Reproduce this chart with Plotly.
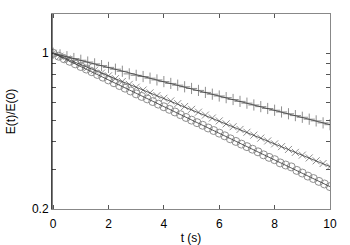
import plotly.graph_objects as go

t_plus = [0.0, 0.25, 0.5, 0.75, 1.0, 1.25, 1.5, 1.75, 2.0, 2.25, 2.5, 2.75, 3.0, 3.25, 3.5, 3.75, 4.0,
          4.25, 4.5, 4.75, 5.0, 5.25, 5.5, 5.75, 6.0, 6.25, 6.5, 6.75, 7.0, 7.25, 7.5, 7.75, 8.0,
          8.25, 8.5, 8.75, 9.0, 9.25, 9.5, 9.75, 10.0]
t_circle = [0.0, 0.2, 0.4, 0.6, 0.8, 1.0, 1.2, 1.4, 1.6, 1.8, 2.0, 2.2, 2.4, 2.6, 2.8, 3.0, 3.2, 3.4, 3.6, 3.8,
            4.0, 4.2, 4.4, 4.6, 4.8, 5.0, 5.2, 5.4, 5.6, 5.8, 6.0, 6.2, 6.4, 6.6, 6.8, 7.0, 7.2, 7.4, 7.6, 7.8,
            8.0, 8.2, 8.4, 8.6, 8.8, 9.0, 9.2, 9.4, 9.6, 9.8, 10.0]

plus_vals = [1.000, 0.983, 0.965, 0.947, 0.930, 0.913, 0.896, 0.880, 0.864, 0.848, 0.830, 0.808, 0.796,
             0.786, 0.773, 0.759, 0.746, 0.732, 0.719, 0.707, 0.695, 0.681, 0.667, 0.655, 0.643, 0.632,
             0.620, 0.608, 0.597, 0.586, 0.576, 0.565, 0.555, 0.545, 0.535, 0.525, 0.516, 0.506, 0.497,
             0.487, 0.478]

cross_vals = [1.000, 0.970, 0.942, 0.915, 0.889, 0.864, 0.839, 0.815, 0.792, 0.769, 0.747, 0.725, 0.704,
              0.684, 0.664, 0.645, 0.628, 0.611, 0.594, 0.577, 0.560, 0.544, 0.528, 0.512, 0.497, 0.482,
              0.468, 0.455, 0.442, 0.429, 0.416, 0.404, 0.392, 0.381, 0.370, 0.359, 0.349, 0.339, 0.329,
              0.320, 0.310]

circle_vals = [1.000, 0.970, 0.944, 0.920, 0.896, 0.872, 0.849, 0.826, 0.803, 0.781, 0.759, 0.737, 0.716, 0.697,
               0.677, 0.657, 0.640, 0.624, 0.607, 0.591, 0.575, 0.560, 0.545, 0.530, 0.515, 0.501, 0.488, 0.475,
               0.462, 0.450, 0.438, 0.426, 0.413, 0.402, 0.391, 0.381, 0.371, 0.361, 0.350, 0.341, 0.333, 0.322,
               0.315, 0.309, 0.298, 0.290, 0.281, 0.274, 0.266, 0.259, 0.252]

fit_t = [0.0, 10.0]
fit_plus = [1.0, 0.478]
fit_cross = [1.0, 0.310]
fit_circle = [1.0, 0.252]

x_ticks = [0, 2, 4, 6, 8, 10]
y_ticks = [0.2, 1]
y_tick_labels = ["0.2", "1"]
y_minor = [0.3, 0.4, 0.5, 0.6, 0.7, 0.8, 0.9]

mark_col = "#8f8f8f"
line_col = "#383838"

fig = go.Figure()
for tt, vals, sym, sz in [(t_plus, plus_vals, "cross-thin-open", 8),
                          (t_plus, cross_vals, "x-thin-open", 7),
                          (t_circle, circle_vals, "circle-open", 8)]:
    fig.add_trace(go.Scatter(x=tt, y=vals, mode="markers",
                             marker=dict(symbol=sym, size=sz, color=mark_col,
                                         line=dict(color=mark_col, width=1)),
                             showlegend=False))
for fv in [fit_plus, fit_cross, fit_circle]:
    fig.add_trace(go.Scatter(x=fit_t, y=fv, mode="lines",
                             line=dict(color=line_col, width=0.8), showlegend=False))

font = dict(family="Liberation Sans, Arial, sans-serif", size=12, color="#000000")
fig.update_layout(
    width=350, height=245,
    margin=dict(l=52, r=20, t=14, b=36, autoexpand=False),
    paper_bgcolor="white", plot_bgcolor="white",
    font=font,
    xaxis=dict(range=[-0.04, 10.0], tickvals=x_ticks, ticks="inside", ticklen=4,
               tickcolor="#555555", showline=True, linecolor="#888888", mirror="ticks",
               showgrid=False, zeroline=False, automargin=False, ticklabelstandoff=4,
               title=dict(text="t (s)", standoff=3, font=font)),
    yaxis=dict(type="log", range=[-0.699, 0.1761], tickvals=y_ticks, ticktext=y_tick_labels,
               ticks="inside", ticklen=4, tickcolor="#555555",
               minor=dict(tickmode="array", tickvals=y_minor, ticks="inside", ticklen=4,
                          tickcolor="#555555", showgrid=False),
               showline=True, linecolor="#888888", mirror="ticks",
               showgrid=False, zeroline=False, automargin=False,
               title=dict(text="E(t)/E(0)", standoff=13, font=font)),
    shapes=[dict(type="line", xref="paper", yref="paper", x0=0, x1=0, y0=0, y1=1,
                 line=dict(color="#000000", width=1))],
)

fig.write_html("out.html", config={"displayModeBar": False},
               post_script="document.body.style.margin='0px';")
